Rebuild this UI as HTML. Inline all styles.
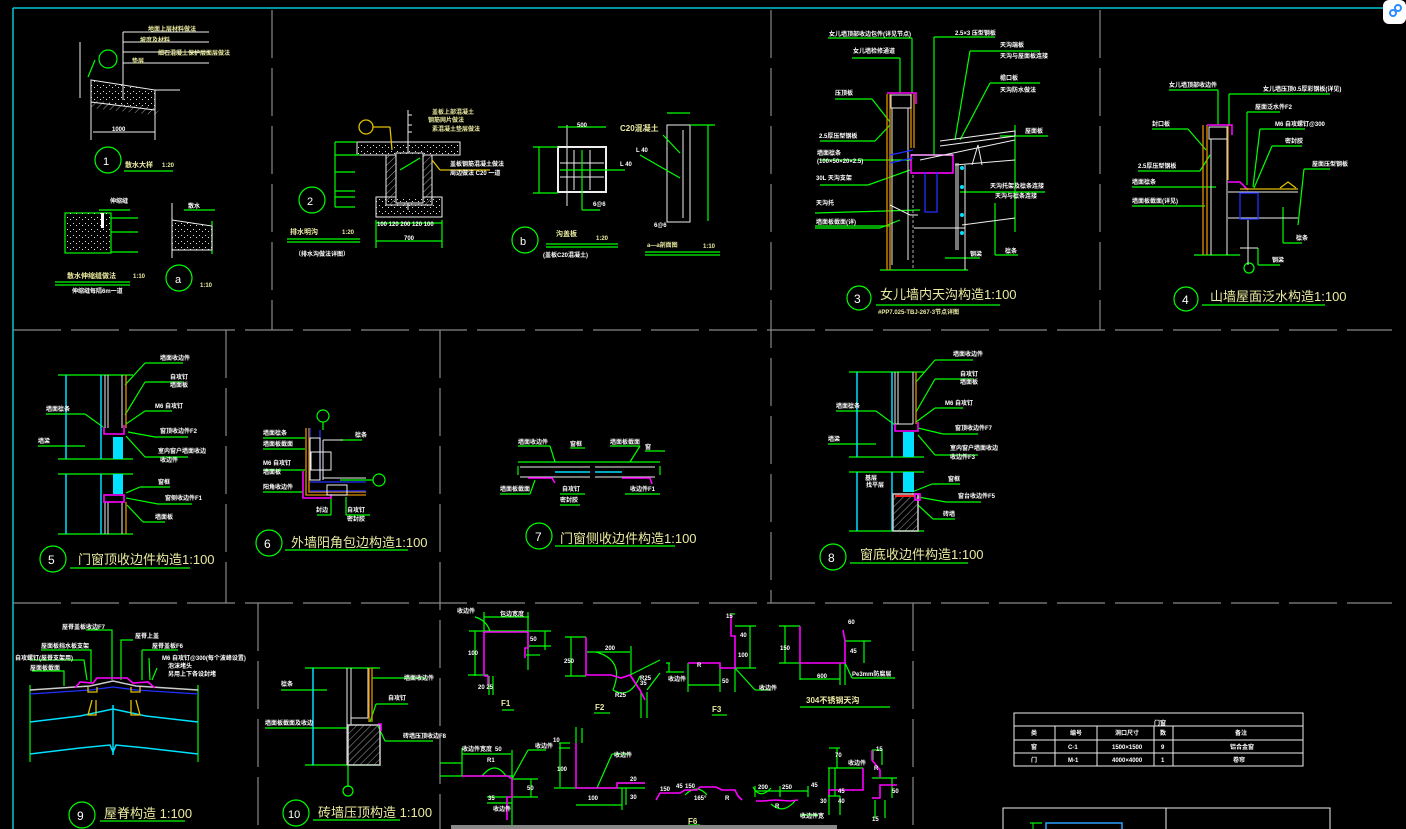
<!DOCTYPE html>
<html><head><meta charset="utf-8"><style>
html,body{margin:0;padding:0;background:#000;width:1406px;height:829px;overflow:hidden}
svg{display:block}
text{font-family:"Liberation Sans","Noto Sans CJK SC",sans-serif}
.t{fill:#eaeaa0;font-size:13px}
.l{fill:#fff;font-size:6px;font-weight:bold}
.ly{fill:#eaeaa0;font-size:6px;font-weight:bold}
.g{stroke:#00ff00;fill:none;stroke-width:1.2}
.y{stroke:#e0c000;fill:none;stroke-width:1.3}
.w{stroke:#eee;fill:none;stroke-width:1}
.c{stroke:#00e0ff;fill:none;stroke-width:1.5}
.b{stroke:#2030ff;fill:none;stroke-width:1.3}
.m{stroke:#ff00ff;fill:none;stroke-width:1.6}
.o{stroke:#e09000;fill:none;stroke-width:1.3}
.grid{stroke:#888;stroke-width:1.2;stroke-dasharray:48 10;fill:none}
</style></head><body>
<svg width="1406" height="829" viewBox="0 0 1406 829">
<defs><pattern id="h" width="5" height="5" patternUnits="userSpaceOnUse" patternTransform="rotate(45)"><line x1="0" y1="0" x2="0" y2="5" stroke="#ccc" stroke-width="0.8"/></pattern>
<pattern id="d" width="6" height="6" patternUnits="userSpaceOnUse"><rect x="1" y="1" width="1" height="1" fill="#ddd"/><rect x="4" y="3" width="1" height="1" fill="#ddd"/></pattern></defs>
<line x1="13" y1="8" x2="1406" y2="8" stroke="#00c8d0" stroke-width="1.5"/>
<line x1="13" y1="8" x2="13" y2="829" stroke="#00c8d0" stroke-width="1.5"/>
<g class="grid">
<line x1="272" y1="10" x2="272" y2="330"/>
<line x1="771" y1="10" x2="771" y2="603"/>
<line x1="1100" y1="10" x2="1100" y2="330"/>
<line x1="13" y1="330" x2="1392" y2="330"/>
<line x1="226" y1="330" x2="226" y2="603"/>
<line x1="440" y1="330" x2="440" y2="829"/>
<line x1="13" y1="603" x2="1392" y2="603"/>
<line x1="258" y1="603" x2="258" y2="829"/>
<line x1="913" y1="603" x2="913" y2="829"/>
</g>

<!-- ===== panel 1 ===== -->
<g class="w"><line x1="80" y1="42" x2="80" y2="98"/><line x1="91" y1="82" x2="91" y2="140"/><line x1="155" y1="95" x2="155" y2="140"/>
<line x1="93" y1="132" x2="155" y2="132"/><line x1="123" y1="32" x2="123" y2="100"/>
<line x1="123" y1="32" x2="209" y2="32"/><line x1="123" y1="42" x2="209" y2="42"/><line x1="123" y1="52" x2="209" y2="52"/><line x1="123" y1="63" x2="209" y2="63"/>
<line x1="155" y1="90" x2="180" y2="90"/></g>
<polygon points="91,80 155,90 155,110 91,102" fill="url(#d)" stroke="#eee"/>
<polygon points="91,100 155,108 170,95 155,115 91,108" fill="url(#h)"/>
<g class="g"><circle cx="108" cy="59" r="9"/><line x1="95" y1="60" x2="88" y2="77"/><circle cx="108" cy="160" r="13"/><line x1="124" y1="171" x2="173" y2="171"/>
<rect x="65" y="213" width="46" height="40"/><line x1="111" y1="218" x2="138" y2="218"/><line x1="111" y1="232" x2="138" y2="232"/><line x1="111" y1="252" x2="138" y2="252"/>
<circle cx="179" cy="278" r="13"/><line x1="55" y1="282" x2="130" y2="282"/><line x1="55" y1="285" x2="130" y2="285"/><line x1="99" y1="210" x2="130" y2="210"/><line x1="184" y1="210" x2="215" y2="210"/><line x1="212" y1="221" x2="212" y2="254"/></g>
<rect x="66" y="213" width="44" height="38" fill="url(#d)"/>
<rect x="101" y="213" width="3" height="15" fill="#fff"/>
<polygon points="172,220 212,226 212,250 172,250" fill="url(#d)" stroke="#eee"/>
<line x1="172" y1="203" x2="172" y2="258" stroke="#eee"/>
<text x="103" y="165" class="t" style="fill:#fff;font-size:11px">1</text><text x="175" y="283" class="t" style="fill:#fff;font-size:11px">a</text>
<text x="148" y="31" class="ly">地面上层材料做法</text><text x="140" y="42" class="ly">坡度及材料</text><text x="158" y="55" class="ly">细石混凝土保护层面层做法</text><text x="132" y="63" class="ly">垫层</text>
<text x="125" y="167" class="ly" style="font-size:7px">散水大样</text><text x="162" y="167" class="ly">1:20</text><text x="112" y="131" class="l">1000</text>
<text x="67" y="278" class="ly" style="font-size:7px">散水伸缩缝做法</text><text x="133" y="278" class="ly">1:10</text><text x="72" y="293" class="l">伸缩缝每隔6m一道</text><text x="200" y="287" class="ly">1:10</text>
<text x="110" y="203" class="l">伸缩缝</text><text x="188" y="208" class="l">散水</text>

<!-- ===== panel 2 ===== -->
<g class="w"><rect x="357" y="142" width="103" height="13"/><rect x="386" y="155" width="46" height="50"/><rect x="396" y="153" width="27" height="50"/>
<rect x="376" y="197" width="66" height="20"/><line x1="408" y1="110" x2="408" y2="210"/><line x1="408" y1="115" x2="412" y2="115"/><line x1="408" y1="125" x2="412" y2="125"/><line x1="408" y1="132" x2="412" y2="132"/></g>
<rect x="386" y="155" width="46" height="50" fill="url(#h)"/><rect x="396" y="153" width="27" height="50" fill="#000" stroke="#eee"/>
<rect x="357" y="142" width="103" height="13" fill="url(#d)"/><rect x="376" y="197" width="66" height="20" fill="url(#d)"/>
<g class="g"><line x1="335" y1="142" x2="357" y2="142"/><line x1="335" y1="155" x2="360" y2="155"/><line x1="335" y1="172" x2="355" y2="172"/><line x1="335" y1="191" x2="355" y2="191"/><line x1="335" y1="197" x2="355" y2="197"/><line x1="335" y1="207" x2="355" y2="207"/><line x1="335" y1="142" x2="335" y2="207"/>
<line x1="376" y1="223" x2="442" y2="223"/><line x1="376" y1="241" x2="442" y2="241"/><line x1="376" y1="220" x2="376" y2="248"/><line x1="442" y1="220" x2="442" y2="248"/>
<circle cx="312" cy="200" r="13"/><line x1="287" y1="239" x2="360" y2="239"/><line x1="287" y1="242" x2="360" y2="242"/><line x1="400" y1="170" x2="420" y2="158"/></g>
<g class="y"><circle cx="366" cy="127" r="7"/><line x1="373" y1="127" x2="390" y2="127"/><line x1="390" y1="127" x2="392" y2="150"/><line x1="432" y1="160" x2="440" y2="170"/><line x1="440" y1="170" x2="490" y2="170"/></g>
<text x="307" y="205" class="t" style="fill:#fff;font-size:11px">2</text>
<text x="432" y="114" class="ly">盖板上部混凝土</text><text x="428" y="122" class="ly">钢筋网片做法</text><text x="432" y="131" class="ly">素混凝土垫层做法</text>
<text x="450" y="166" class="l">盖板钢筋混凝土做法</text><text x="450" y="175" class="l">周边做法 C20 一道</text>
<text x="290" y="234" class="ly" style="font-size:7px">排水明沟</text><text x="342" y="234" class="ly">1:20</text><text x="295" y="256" class="l">（排水沟做法详图）</text><text x="404" y="240" class="l">700</text>
<text x="377" y="226" class="l">100 120   200   120 100</text>

<!-- ===== panel b ===== /
<!-- -->
<g class="w"><rect x="558" y="147" width="48" height="45" stroke-width="2"/><line x1="574" y1="150" x2="574" y2="190"/><line x1="590" y1="150" x2="590" y2="190"/><line x1="560" y1="163" x2="604" y2="163"/><line x1="560" y1="177" x2="604" y2="177"/><line x1="567" y1="125" x2="567" y2="206"/>
<rect x="667" y="125" width="23" height="97"/><line x1="683" y1="130" x2="683" y2="218"/></g>
<g class="g"><line x1="558" y1="127" x2="606" y2="127"/><line x1="533" y1="147" x2="558" y2="147"/><line x1="533" y1="193" x2="558" y2="193"/><line x1="539" y1="147" x2="539" y2="193"/><line x1="560" y1="170" x2="625" y2="170"/><line x1="582" y1="150" x2="582" y2="210"/><line x1="582" y1="210" x2="600" y2="210"/>
<line x1="667" y1="113" x2="690" y2="113"/><line x1="690" y1="125" x2="715" y2="125"/><line x1="708" y1="125" x2="708" y2="221"/><line x1="663" y1="135" x2="680" y2="153"/><line x1="640" y1="155" x2="680" y2="178"/>
<circle cx="525" cy="240" r="13"/><line x1="546" y1="244" x2="618" y2="244"/><line x1="546" y1="247" x2="618" y2="247"/><line x1="645" y1="252" x2="720" y2="252"/><line x1="645" y1="255" x2="720" y2="255"/></g>
<text x="520" y="245" class="t" style="fill:#fff;font-size:11px">b</text>
<text x="577" y="127" class="l">500</text><text x="620" y="166" class="l">L 40</text><text x="593" y="206" class="l">6@6</text>
<text x="620" y="131" class="ly" style="font-size:8px">C20混凝土</text><text x="636" y="152" class="l">L 40</text><text x="654" y="227" class="l">6@6</text>
<text x="556" y="236" class="ly" style="font-size:7px">沟盖板</text><text x="596" y="240" class="ly">1:20</text><text x="543" y="257" class="l">(盖板C20混凝土)</text>
<text x="647" y="247" class="ly">a—a剖面图</text><text x="703" y="248" class="ly">1:10</text>

<!-- ===== panel 3 ===== -->
<g class="g"><line x1="828" y1="38" x2="912" y2="38"/><line x1="912" y1="38" x2="912" y2="93"/><line x1="852" y1="58" x2="900" y2="58"/><line x1="900" y1="58" x2="900" y2="93"/>
<line x1="835" y1="99" x2="872" y2="99"/><line x1="872" y1="99" x2="890" y2="122"/><line x1="820" y1="141" x2="875" y2="141"/><line x1="875" y1="141" x2="890" y2="125"/>
<line x1="820" y1="160" x2="912" y2="160"/><line x1="820" y1="185" x2="868" y2="185"/><line x1="868" y1="185" x2="910" y2="170"/>
<line x1="815" y1="213" x2="920" y2="210"/><line x1="815" y1="228" x2="880" y2="228"/><line x1="880" y1="228" x2="900" y2="220"/><line x1="815" y1="226" x2="890" y2="226"/>
<line x1="934" y1="37" x2="995" y2="37"/><line x1="934" y1="37" x2="934" y2="155"/><line x1="970" y1="51" x2="1040" y2="51"/><line x1="970" y1="51" x2="955" y2="140"/><line x1="990" y1="83" x2="1040" y2="83"/><line x1="990" y1="83" x2="960" y2="140"/>
<line x1="1000" y1="136" x2="1048" y2="136"/><line x1="1015" y1="125" x2="1015" y2="232"/><line x1="960" y1="192" x2="1045" y2="192"/><line x1="995" y1="203" x2="995" y2="255"/><line x1="995" y1="255" x2="1018" y2="255"/>
<line x1="945" y1="258" x2="980" y2="258"/><line x1="880" y1="270" x2="968" y2="270"/></g>
<g class="o"><line x1="887" y1="94" x2="887" y2="270"/><line x1="890" y1="94" x2="890" y2="270"/><line x1="911" y1="94" x2="911" y2="148"/><line x1="914" y1="94" x2="914" y2="148"/></g>
<g class="m"><polyline points="887,93 916,93 916,104"/><rect x="911" y="155" width="42" height="18"/></g>
<g class="w"><rect x="891" y="95" width="20" height="13"/><line x1="892" y1="108" x2="892" y2="265"/><line x1="908" y1="108" x2="908" y2="260"/><line x1="911" y1="155" x2="953" y2="155"/><line x1="920" y1="160" x2="1015" y2="140"/>
<polyline points="940,141 1015,131 1015,136 940,146"/><line x1="955" y1="165" x2="1015" y2="160"/><line x1="956" y1="163" x2="956" y2="250"/><line x1="958" y1="163" x2="958" y2="250"/><line x1="962" y1="225" x2="1015" y2="218"/>
<polyline points="890,205 910,215 918,215"/><line x1="914" y1="228" x2="965" y2="228"/><line x1="965" y1="165" x2="965" y2="270"/><polyline points="972,165 978,145 982,165"/></g>
<g class="b"><polyline points="925,172 925,212 937,212 937,172"/><line x1="890" y1="155" x2="913" y2="150"/><line x1="890" y1="163" x2="913" y2="158"/></g>
<g fill="#00e0ff"><circle cx="962" cy="168" r="2"/><circle cx="962" cy="187" r="2"/><circle cx="962" cy="215" r="2"/><circle cx="962" cy="233" r="2"/></g>
<line x1="913" y1="175" x2="913" y2="270" stroke="#aaa" stroke-dasharray="3 2"/>
<text x="829" y="36" class="l">女儿墙顶部收边包件(详见节点)</text><text x="853" y="53" class="l">女儿墙检修通道</text><text x="835" y="95" class="l">压顶板</text><text x="819" y="138" class="l">2.5厚压型钢板</text>
<text x="817" y="155" class="l">墙面檩条</text><text x="817" y="163" class="l">(100×50×20×2.5)</text><text x="816" y="180" class="l">30L 天沟支架</text><text x="816" y="205" class="l">天沟托</text><text x="816" y="224" class="l">墙面板截面(详)</text>
<text x="955" y="35" class="l">2.5×3 压型钢板</text><text x="1000" y="47" class="l">天沟端板</text><text x="1000" y="58" class="l">天沟与屋面板连接</text><text x="1000" y="80" class="l">檐口板</text><text x="1000" y="92" class="l">天沟防水做法</text>
<text x="1025" y="133" class="l">屋面板</text><text x="990" y="188" class="l">天沟托架及檩条连接</text><text x="995" y="198" class="l">天沟与檩条连接</text><text x="1005" y="253" class="l">檩条</text><text x="970" y="256" class="l">钢梁</text>
<g class="g"><circle cx="859" cy="298" r="12"/><line x1="876" y1="305" x2="1000" y2="305"/></g>
<text x="854" y="303" class="t" style="fill:#fff;font-size:12px">3</text><text x="880" y="299" class="t">女儿墙内天沟构造1:100</text>
<text x="878" y="314" class="ly">#PP7.025-TBJ-267-3节点详图</text>

<!-- ===== panel 4 ===== -->
<g class="g"><line x1="1169" y1="90" x2="1218" y2="90"/><line x1="1218" y1="90" x2="1218" y2="125"/><line x1="1229" y1="94" x2="1330" y2="94"/><line x1="1229" y1="94" x2="1229" y2="125"/>
<line x1="1247" y1="112" x2="1280" y2="112"/><line x1="1247" y1="112" x2="1247" y2="185"/><line x1="1260" y1="129" x2="1305" y2="129"/><line x1="1260" y1="129" x2="1253" y2="187"/><line x1="1272" y1="146" x2="1302" y2="146"/><line x1="1272" y1="146" x2="1254" y2="188"/>
<line x1="1152" y1="129" x2="1188" y2="129"/><line x1="1188" y1="129" x2="1206" y2="150"/><line x1="1138" y1="171" x2="1200" y2="171"/><line x1="1200" y1="171" x2="1210" y2="155"/><line x1="1132" y1="187" x2="1216" y2="187"/><line x1="1132" y1="206" x2="1205" y2="206"/>
<line x1="1304" y1="169" x2="1330" y2="169"/><line x1="1304" y1="169" x2="1298" y2="225"/><line x1="1283" y1="207" x2="1283" y2="243"/><line x1="1283" y1="243" x2="1302" y2="243"/><line x1="1258" y1="248" x2="1258" y2="265"/><line x1="1258" y1="265" x2="1280" y2="265"/>
<line x1="1194" y1="255" x2="1240" y2="255"/><circle cx="1249" cy="268" r="5"/></g>
<g class="o"><line x1="1203" y1="125" x2="1203" y2="255"/><line x1="1207" y1="125" x2="1207" y2="255"/><line x1="1228" y1="125" x2="1228" y2="180"/></g>
<g class="m"><polyline points="1207,125 1232,125 1232,135"/><polyline points="1228,182 1240,182 1248,190"/></g>
<g class="w"><rect x="1209" y="127" width="18" height="12"/><line x1="1211" y1="139" x2="1211" y2="255"/><line x1="1227" y1="139" x2="1227" y2="255"/><line x1="1228" y1="192" x2="1298" y2="192"/><line x1="1228" y1="218" x2="1298" y2="218"/><line x1="1248" y1="220" x2="1248" y2="265"/><line x1="1240" y1="248" x2="1258" y2="248"/></g>
<g class="y"><line x1="1240" y1="189" x2="1298" y2="189"/><polyline points="1280,188 1288,182 1296,188"/></g>
<g class="b"><rect x="1240" y="193" width="18" height="26"/></g>
<text x="1169" y="87" class="l">女儿墙顶部收边件</text><text x="1263" y="91" class="l">女儿墙压顶0.5厚彩钢板(详见)</text><text x="1255" y="109" class="l">屋面泛水件F2</text><text x="1275" y="126" class="l">M6 自攻螺钉@300</text><text x="1285" y="143" class="l">密封胶</text>
<text x="1152" y="126" class="l">封口板</text><text x="1138" y="168" class="l">2.5厚压型钢板</text><text x="1132" y="184" class="l">墙面檩条</text><text x="1132" y="203" class="l">墙面板截面(详见)</text><text x="1312" y="166" class="l">屋面压型钢板</text><text x="1296" y="240" class="l">檩条</text><text x="1272" y="262" class="l">钢梁</text>
<g class="g"><circle cx="1186" cy="299" r="12"/><line x1="1202" y1="305" x2="1325" y2="305"/></g>
<text x="1182" y="304" class="t" style="fill:#fff;font-size:12px">4</text><text x="1210" y="301" class="t">山墙屋面泛水构造1:100</text>

<!-- ===== panel 5 ===== -->
<g class="g"><line x1="58" y1="375" x2="133" y2="375"/><line x1="58" y1="459" x2="133" y2="459"/><line x1="58" y1="474" x2="133" y2="474"/><line x1="58" y1="534" x2="133" y2="534"/>
<line x1="46" y1="414" x2="85" y2="414"/><line x1="85" y1="414" x2="103" y2="427"/><line x1="38" y1="446" x2="85" y2="446"/>
<line x1="145" y1="363" x2="183" y2="363"/><line x1="145" y1="363" x2="125" y2="385"/><line x1="145" y1="382" x2="183" y2="382"/><line x1="145" y1="382" x2="125" y2="415"/><line x1="145" y1="411" x2="172" y2="411"/><line x1="145" y1="411" x2="126" y2="424"/>
<line x1="155" y1="437" x2="188" y2="437"/><line x1="155" y1="437" x2="128" y2="432"/><line x1="145" y1="457" x2="188" y2="457"/><line x1="145" y1="457" x2="126" y2="436"/>
<line x1="140" y1="487" x2="170" y2="487"/><line x1="140" y1="487" x2="126" y2="493"/><line x1="158" y1="504" x2="192" y2="504"/><line x1="158" y1="504" x2="126" y2="498"/><line x1="143" y1="522" x2="165" y2="522"/><line x1="143" y1="522" x2="127" y2="505"/></g>
<g class="c"><line x1="66" y1="375" x2="66" y2="459"/><line x1="66" y1="474" x2="66" y2="534"/><line x1="101" y1="375" x2="101" y2="459"/><line x1="101" y1="474" x2="101" y2="534"/></g>
<rect x="113" y="437" width="10" height="22" fill="#00e0ff"/><rect x="113" y="474" width="10" height="20" fill="#00e0ff"/>
<g class="w"><line x1="105" y1="375" x2="105" y2="428"/><line x1="108" y1="375" x2="108" y2="428"/><line x1="122" y1="375" x2="122" y2="428"/><line x1="105" y1="502" x2="105" y2="534"/><line x1="108" y1="502" x2="108" y2="534"/><line x1="122" y1="502" x2="122" y2="534"/><line x1="105" y1="502" x2="122" y2="502"/></g>
<g class="o"><line x1="126" y1="375" x2="126" y2="428"/><line x1="126" y1="502" x2="126" y2="534"/></g>
<g class="m"><polyline points="104,427 104,434 124,434 124,425"/><rect x="104" y="495" width="20" height="7"/></g>
<text x="160" y="360" class="l">墙面收边件</text><text x="170" y="379" class="l">自攻钉</text><text x="170" y="387" class="l">墙面板</text><text x="155" y="408" class="l">M6 自攻钉</text><text x="160" y="433" class="l">窗顶收边件F2</text><text x="158" y="453" class="l">室内窗户墙面收边</text><text x="160" y="462" class="l">收边件</text>
<text x="158" y="484" class="l">窗框</text><text x="165" y="500" class="l">窗侧收边件F1</text><text x="155" y="519" class="l">墙面板</text><text x="46" y="411" class="l">墙面檩条</text><text x="38" y="443" class="l">墙梁</text>
<g class="g"><circle cx="53" cy="559" r="13"/><line x1="70" y1="568" x2="190" y2="568"/></g>
<text x="48" y="564" class="t" style="fill:#fff;font-size:12px">5</text><text x="78" y="564" class="t">门窗顶收边件构造1:100</text>

<!-- ===== panel 6 ===== -->
<g class="g"><line x1="263" y1="438" x2="305" y2="438"/><line x1="263" y1="449" x2="305" y2="449"/><line x1="263" y1="470" x2="305" y2="470"/><line x1="263" y1="492" x2="303" y2="492"/>
<line x1="340" y1="440" x2="362" y2="440"/><line x1="373" y1="480" x2="340" y2="480"/><line x1="331" y1="497" x2="331" y2="515"/><line x1="331" y1="515" x2="317" y2="515"/><line x1="346" y1="497" x2="346" y2="515"/><line x1="346" y1="515" x2="370" y2="515"/>
<circle cx="323" cy="416" r="6"/><line x1="323" y1="422" x2="323" y2="430"/><circle cx="379" cy="480" r="6"/></g>
<g class="o"><polyline points="306,428 306,495 366,495"/><polyline points="309,428 309,492 366,492"/></g>
<g class="b"><line x1="310" y1="428" x2="310" y2="480"/><line x1="320" y1="430" x2="320" y2="480"/><line x1="310" y1="482" x2="366" y2="482"/><line x1="310" y1="491" x2="366" y2="491"/></g>
<g class="m"><polyline points="303,471 303,498 331,498 331,494"/></g>
<g class="w"><rect x="310" y="438" width="10" height="42"/><line x1="323" y1="440" x2="343" y2="440"/><line x1="323" y1="478" x2="366" y2="478"/><rect x="311" y="452" width="20" height="18"/><rect x="327" y="485" width="20" height="10"/><line x1="323" y1="440" x2="323" y2="480"/></g>
<text x="263" y="435" class="l">墙面檩条</text><text x="263" y="446" class="l">墙面板截面</text><text x="263" y="465" class="l">M6 自攻钉</text><text x="263" y="474" class="l">墙面板</text><text x="263" y="489" class="l">阳角收边件</text>
<text x="355" y="437" class="l">檩条</text><text x="316" y="512" class="l">封边</text><text x="347" y="512" class="l">自攻钉</text><text x="347" y="521" class="l">密封胶</text>
<g class="g"><circle cx="269" cy="543" r="13"/><line x1="285" y1="550" x2="408" y2="550"/></g>
<text x="264" y="548" class="t" style="fill:#fff;font-size:12px">6</text><text x="291" y="547" class="t">外墙阳角包边构造1:100</text>

<!-- ===== panel 7 ===== -->
<g class="g"><line x1="518" y1="462" x2="660" y2="462"/><line x1="518" y1="466" x2="518" y2="475"/><line x1="660" y1="466" x2="660" y2="475"/><line x1="500" y1="494" x2="530" y2="494"/><line x1="530" y1="494" x2="535" y2="480"/><line x1="560" y1="494" x2="585" y2="494"/><line x1="625" y1="494" x2="660" y2="494"/>
<line x1="518" y1="446" x2="550" y2="446"/><line x1="550" y1="446" x2="555" y2="462"/><line x1="570" y1="448" x2="585" y2="448"/><line x1="610" y1="446" x2="640" y2="446"/><line x1="640" y1="446" x2="630" y2="462"/><line x1="645" y1="451" x2="665" y2="451"/><line x1="560" y1="505" x2="580" y2="505"/></g>
<g class="w"><line x1="520" y1="467" x2="590" y2="467"/><line x1="520" y1="477" x2="590" y2="477"/><line x1="595" y1="467" x2="655" y2="467"/><line x1="595" y1="477" x2="655" y2="477"/></g>
<g class="c"><line x1="555" y1="472" x2="590" y2="472"/><line x1="595" y1="472" x2="622" y2="472"/></g>
<g class="m"><polyline points="528,478 552,478 555,483"/><polyline points="622,478 650,478 652,484"/></g>
<text x="518" y="444" class="l">墙面收边件</text><text x="570" y="446" class="l">窗框</text><text x="610" y="444" class="l">墙面板截面</text><text x="645" y="449" class="l">窗</text>
<text x="500" y="491" class="l">墙面板截面</text><text x="562" y="491" class="l">自攻钉</text><text x="630" y="491" class="l">收边件F1</text><text x="560" y="502" class="l">密封胶</text>
<g class="g"><circle cx="539" cy="536" r="13"/><line x1="555" y1="546" x2="675" y2="546"/></g>
<text x="535" y="541" class="t" style="fill:#fff;font-size:12px">7</text><text x="560" y="543" class="t">门窗侧收边件构造1:100</text>

<!-- ===== panel 8 ===== -->
<g class="g"><line x1="849" y1="372" x2="924" y2="372"/><line x1="849" y1="457" x2="924" y2="457"/><line x1="849" y1="472" x2="924" y2="472"/><line x1="849" y1="531" x2="924" y2="531"/>
<line x1="836" y1="411" x2="876" y2="411"/><line x1="876" y1="411" x2="895" y2="425"/><line x1="828" y1="444" x2="876" y2="444"/>
<line x1="935" y1="360" x2="973" y2="360"/><line x1="935" y1="360" x2="916" y2="382"/><line x1="935" y1="379" x2="973" y2="379"/><line x1="935" y1="379" x2="916" y2="412"/><line x1="935" y1="408" x2="963" y2="408"/><line x1="935" y1="408" x2="916" y2="422"/>
<line x1="943" y1="434" x2="978" y2="434"/><line x1="943" y1="434" x2="918" y2="428"/><line x1="935" y1="455" x2="978" y2="455"/><line x1="935" y1="455" x2="918" y2="435"/>
<line x1="932" y1="484" x2="960" y2="484"/><line x1="932" y1="484" x2="912" y2="492"/><line x1="946" y1="502" x2="981" y2="502"/><line x1="946" y1="502" x2="918" y2="497"/><line x1="933" y1="519" x2="955" y2="519"/><line x1="933" y1="519" x2="918" y2="505"/></g>
<g class="c"><line x1="857" y1="372" x2="857" y2="457"/><line x1="857" y1="472" x2="857" y2="531"/><line x1="892" y1="372" x2="892" y2="457"/><line x1="892" y1="472" x2="892" y2="531"/></g>
<rect x="903" y="432" width="11" height="25" fill="#00e0ff"/><rect x="903" y="472" width="11" height="20" fill="#00e0ff"/>
<g class="w"><line x1="895" y1="372" x2="895" y2="424"/><line x1="898" y1="372" x2="898" y2="424"/><line x1="913" y1="372" x2="913" y2="424"/><line x1="895" y1="424" x2="913" y2="424"/></g>
<line x1="916" y1="372" x2="916" y2="424" stroke="#e09000" stroke-width="1.3"/>
<rect x="893" y="494" width="25" height="37" fill="url(#h)" stroke="#ccc" stroke-width="1.5"/>
<line x1="895" y1="496" x2="915" y2="496" stroke="#ff2020" stroke-width="2"/>
<g class="m"><polyline points="895,424 895,431 918,431 918,422"/><rect x="915" y="494" width="5" height="6"/></g>
<text x="953" y="356" class="l">墙面收边件</text><text x="960" y="376" class="l">自攻钉</text><text x="960" y="384" class="l">墙面板</text><text x="945" y="405" class="l">M6 自攻钉</text><text x="955" y="430" class="l">窗顶收边件F7</text><text x="950" y="450" class="l">室内窗户墙面收边</text><text x="950" y="459" class="l">收边件F3</text>
<text x="948" y="481" class="l">窗框</text><text x="958" y="498" class="l">窗台收边件F5</text><text x="943" y="516" class="l">砖墙</text><text x="836" y="408" class="l">墙面檩条</text><text x="828" y="441" class="l">墙梁</text><text x="865" y="480" class="l">基层</text><text x="866" y="487" class="l">找平层</text>
<g class="g"><circle cx="833" cy="557" r="13"/><line x1="850" y1="563" x2="968" y2="563"/></g>
<text x="828" y="562" class="t" style="fill:#fff;font-size:12px">8</text><text x="860" y="559" class="t">窗底收边件构造1:100</text>

<!-- ===== panel 9 ===== -->
<g class="g"><line x1="30" y1="685" x2="30" y2="762"/><line x1="198" y1="685" x2="198" y2="762"/>
<polyline points="86,630 112,630 112,680"/><polyline points="133,640 121,640 121,680"/><polyline points="41,650 91,650 91,682"/><polyline points="30,660 84,660 87,680"/><polyline points="32,671 64,671 64,686"/>
<polyline points="142,650 142,680"/><polyline points="149,658 150,680"/><polyline points="157,668 152,680"/><line x1="142" y1="650" x2="178" y2="650"/></g>
<polyline points="30,690 90,686 113,681 136,686 198,690" stroke="#ccc" fill="none" stroke-width="1.5"/>
<polyline points="30,694 90,690 113,687 136,690 198,694" class="b"/>
<polyline points="30,722 80,716 113,709 146,716 198,722" class="c" stroke-width="2"/>
<polyline points="30,754 80,748 110,745 113,752 116,745 146,748 198,754" class="c" stroke-width="2"/>
<line x1="113" y1="705" x2="113" y2="755" class="c" stroke-width="2"/>
<g class="y"><polyline points="88,687 88,692 97,692 97,687"/><polyline points="92,700 88,715 96,715 96,700"/><polyline points="131,687 131,692 140,692 140,687"/><polyline points="131,700 131,715 140,715 136,700"/></g>
<g class="m"><polyline points="75,688 80,682 93,683 97,678 127,678 133,683 148,682 155,688"/></g>
<text x="62" y="629" class="l">屋脊盖板收边F7</text><text x="135" y="638" class="l">屋脊上盖</text><text x="41" y="648" class="l">屋面板挡水板支架</text><text x="15" y="660" class="l">自攻螺钉(屋脊支架用)</text><text x="30" y="670" class="l">屋面板截面</text>
<text x="152" y="648" class="l">屋脊盖板F6</text><text x="162" y="660" class="l">M6 自攻钉@300(每个波峰设置)</text><text x="168" y="668" class="l">泡沫堵头</text><text x="168" y="676" class="l">另用上下各设封堵</text>
<g class="g"><circle cx="82" cy="815" r="13"/><line x1="100" y1="821" x2="185" y2="821"/></g>
<text x="77" y="820" class="t" style="fill:#fff;font-size:12px">9</text><text x="104" y="818" class="t">屋脊构造 1:100</text>

<!-- ===== panel 10 ===== -->
<g class="g"><line x1="305" y1="668" x2="380" y2="668"/><line x1="305" y1="765" x2="380" y2="765"/><line x1="281" y1="690" x2="327" y2="690"/><line x1="265" y1="728" x2="348" y2="728"/>
<line x1="372" y1="678" x2="426" y2="678"/><line x1="376" y1="704" x2="408" y2="704"/><line x1="376" y1="704" x2="370" y2="722"/><line x1="385" y1="741" x2="433" y2="741"/><line x1="385" y1="741" x2="378" y2="726"/>
<line x1="348" y1="765" x2="348" y2="787"/><circle cx="348" cy="791" r="5"/></g>
<line x1="313" y1="668" x2="313" y2="765" class="c" stroke-width="2"/>
<g class="w"><line x1="347" y1="668" x2="347" y2="765"/><line x1="351" y1="668" x2="351" y2="725"/><line x1="368" y1="668" x2="368" y2="718"/><line x1="351" y1="718" x2="368" y2="718"/></g>
<g class="o"><line x1="369" y1="668" x2="369" y2="722"/><line x1="372" y1="668" x2="372" y2="722"/></g>
<rect x="348" y="725" width="32" height="40" fill="url(#h)" stroke="#ccc" stroke-width="1.5"/>
<polyline points="378,724 381,724 381,731" class="m"/>
<text x="281" y="686" class="l">檩条</text><text x="265" y="725" class="l">墙面板截面及收边</text><text x="404" y="680" class="l">墙面收边件</text><text x="388" y="700" class="l">自攻钉</text><text x="403" y="738" class="l">砖墙压顶收边F8</text>
<g class="g"><circle cx="296" cy="813" r="13"/><line x1="313" y1="820" x2="400" y2="820"/></g>
<text x="288" y="818" class="t" style="fill:#fff;font-size:11px">10</text><text x="318" y="817" class="t">砖墙压顶构造 1:100</text>

<!-- ===== F panels ===== -->
<g class="g">
<!-- F1 -->
<line x1="469" y1="631" x2="551" y2="631"/><line x1="484" y1="617" x2="529" y2="617"/><line x1="484" y1="612" x2="484" y2="632"/><line x1="528" y1="612" x2="528" y2="670"/><line x1="475" y1="631" x2="475" y2="676"/><line x1="468" y1="675" x2="488" y2="675"/>
<line x1="545" y1="631" x2="545" y2="650"/><line x1="528" y1="646" x2="551" y2="646"/><line x1="526" y1="655" x2="540" y2="655"/><line x1="489" y1="676" x2="489" y2="695"/><line x1="493" y1="676" x2="493" y2="695"/><path d="M475,617 Q486,620 490,631"/>
<line x1="502" y1="710" x2="514" y2="710"/>
<!-- F2 -->
<line x1="565" y1="637" x2="586" y2="637"/><line x1="565" y1="676" x2="586" y2="676"/><line x1="571" y1="637" x2="571" y2="676"/><line x1="587" y1="652" x2="630" y2="652"/><line x1="631" y1="646" x2="631" y2="675"/>
<path d="M596,652 Q625,660 613,690 Q630,700 640,676"/><line x1="630" y1="675" x2="660" y2="660"/><line x1="647" y1="690" x2="660" y2="673"/><line x1="641" y1="692" x2="641" y2="718"/><line x1="647" y1="692" x2="647" y2="718"/><line x1="594" y1="713" x2="610" y2="713"/>
<!-- F3 -->
<line x1="666" y1="663" x2="670" y2="663"/><line x1="666" y1="672" x2="684" y2="672"/><line x1="669" y1="663" x2="669" y2="672"/><line x1="688" y1="663" x2="688" y2="692"/><line x1="688" y1="685" x2="720" y2="685"/><line x1="720" y1="663" x2="720" y2="692"/><line x1="735" y1="663" x2="735" y2="692"/>
<line x1="731" y1="614" x2="735" y2="614"/><line x1="735" y1="626" x2="756" y2="626"/><line x1="735" y1="668" x2="756" y2="668"/><line x1="750" y1="626" x2="750" y2="668"/><line x1="735" y1="668" x2="755" y2="690"/><line x1="755" y1="690" x2="771" y2="690"/><line x1="712" y1="715" x2="727" y2="715"/>
<!-- 304 -->
<line x1="779" y1="626" x2="800" y2="626"/><line x1="779" y1="663" x2="800" y2="663"/><line x1="785" y1="626" x2="785" y2="663"/><line x1="800" y1="663" x2="800" y2="680"/><line x1="840" y1="663" x2="840" y2="685"/><line x1="800" y1="679" x2="840" y2="679"/>
<line x1="845" y1="641" x2="871" y2="641"/><line x1="845" y1="663" x2="845" y2="685"/><line x1="864" y1="641" x2="864" y2="663"/><line x1="845" y1="663" x2="852" y2="678"/><line x1="852" y1="678" x2="895" y2="678"/><line x1="800" y1="707" x2="890" y2="707"/>
<!-- F4 -->
<line x1="440" y1="763" x2="462" y2="763"/><line x1="440" y1="776" x2="513" y2="776"/><line x1="462" y1="748" x2="462" y2="776"/><line x1="462" y1="754" x2="511" y2="754"/><line x1="512" y1="750" x2="512" y2="825"/><line x1="512" y1="779" x2="538" y2="779"/><line x1="531" y1="779" x2="531" y2="797"/><line x1="512" y1="797" x2="538" y2="797"/><line x1="487" y1="797" x2="508" y2="797"/><line x1="487" y1="803" x2="512" y2="803"/><line x1="512" y1="779" x2="528" y2="750"/><line x1="528" y1="750" x2="546" y2="750"/>
<path d="M482,776 Q495,760 506,776"/>
<!-- F5 -->
<line x1="559" y1="743" x2="570" y2="743"/><line x1="559" y1="748" x2="570" y2="748"/><line x1="560" y1="743" x2="560" y2="787"/><line x1="554" y1="788" x2="645" y2="788"/><line x1="576" y1="727" x2="576" y2="743"/><line x1="582" y1="728" x2="582" y2="743"/><line x1="576" y1="805" x2="622" y2="805"/><line x1="622" y1="788" x2="622" y2="810"/><line x1="626" y1="788" x2="626" y2="805"/>
<line x1="597" y1="788" x2="612" y2="754"/><line x1="612" y1="754" x2="628" y2="754"/><line x1="617" y1="783" x2="645" y2="783"/>
<!-- F6 -->
<path d="M685,795 Q697,783 707,795"/><path d="M753,787 Q760,800 771,788"/>
<!-- F7-F9 -->
<line x1="755" y1="791" x2="808" y2="791"/><line x1="755" y1="786" x2="755" y2="797"/><line x1="780" y1="786" x2="780" y2="797"/><line x1="808" y1="786" x2="808" y2="797"/><path d="M771,804 Q783,815 795,801"/><line x1="800" y1="815" x2="818" y2="815"/>
<line x1="829" y1="748" x2="840" y2="748"/><line x1="828" y1="768" x2="863" y2="768"/><line x1="828" y1="796" x2="840" y2="796"/><line x1="829" y1="768" x2="829" y2="815"/><line x1="837" y1="748" x2="837" y2="768"/><line x1="835" y1="768" x2="835" y2="796"/><line x1="840" y1="796" x2="840" y2="815"/>
<line x1="872" y1="750" x2="882" y2="750"/><line x1="872" y1="778" x2="897" y2="778"/><line x1="872" y1="798" x2="880" y2="798"/><line x1="873" y1="750" x2="873" y2="760"/><line x1="882" y1="750" x2="882" y2="765"/><line x1="892" y1="778" x2="892" y2="798"/><line x1="875" y1="800" x2="875" y2="818"/><line x1="885" y1="800" x2="885" y2="818"/>
<line x1="688" y1="825" x2="700" y2="825"/>
</g>
<g class="m" stroke-width="1.8">
<polyline points="483,632 528,632 528,648 525,648 525,658"/><line x1="484" y1="632" x2="484" y2="676"/><polyline points="484,676 488,676 488,685"/>
<polyline points="586,637 586,675 611,675 621,678 630,675 640,690 645,700"/>
<polyline points="688,663 720,663 720,668 735,668 735,636 731,636 731,615"/>
<polyline points="800,626 800,663 845,663 845,641 843,630"/>
<polyline points="462,776 508,776 512,779 512,797 507,797 507,820"/>
<polyline points="576,743 576,788 597,788 617,788 617,783 645,783"/>
<polyline points="656,800 660,793 680,793 685,790 697,790 700,787 716,787 722,790 735,790 738,796 742,800"/>
<polyline points="756,801 763,801 775,800 790,801 798,800"/>
<polyline points="829,795 829,790 855,790 863,790 863,768"/>
<polyline point="" points="872,798 874,798 880,798 880,785 897,785"/>
<polyline points="872,750 872,760 880,770 880,778"/>
</g>
<text x="457" y="613" class="l">收边件</text><text x="500" y="616" class="l">包边宽度</text><text x="530" y="641" class="l">50</text><text x="468" y="655" class="l">100</text><text x="478" y="689" class="l">20 25</text><text x="501" y="706" class="ly" style="font-size:8px">F1</text>
<text x="605" y="650" class="l">200</text><text x="564" y="663" class="l">250</text><text x="615" y="697" class="l">R25</text><text x="640" y="680" class="l">R25</text><text x="640" y="685" class="l">35</text><text x="595" y="710" class="ly" style="font-size:8px">F2</text>
<text x="697" y="667" class="l">R</text><text x="668" y="681" class="l">收边件</text><text x="722" y="683" class="l">50</text><text x="740" y="637" class="l">40</text><text x="738" y="657" class="l">100</text><text x="759" y="690" class="l">收边件</text><text x="712" y="712" class="ly" style="font-size:8px">F3</text><text x="726" y="618" class="l">15</text>
<text x="780" y="650" class="l">150</text><text x="817" y="678" class="l">600</text><text x="848" y="624" class="l">60</text><text x="850" y="653" class="l">45</text><text x="852" y="676" class="l">Pe3mm防腐层</text><text x="806" y="703" class="ly" style="font-size:8px">304不锈钢天沟</text>
<text x="462" y="751" class="l">收边件宽度</text><text x="495" y="751" class="l">50</text><text x="487" y="762" class="l">R1</text><text x="535" y="748" class="l">收边件</text><text x="488" y="800" class="l">35</text><text x="493" y="811" class="l">收边件</text><text x="527" y="790" class="l">50</text>
<text x="553" y="742" class="l">10</text><text x="557" y="771" class="l">100</text><text x="588" y="800" class="l">100</text><text x="614" y="757" class="l">收边件</text><text x="630" y="781" class="l">20</text><text x="630" y="799" class="l">30</text>
<text x="660" y="791" class="l">150</text><text x="676" y="788" class="l">45</text><text x="685" y="788" class="l">150</text><text x="694" y="800" class="l">165°</text><text x="725" y="800" class="l">R</text><text x="688" y="824" class="ly" style="font-size:8px">F6</text>
<text x="758" y="789" class="l">200</text><text x="782" y="789" class="l">250</text><text x="775" y="808" class="l">R</text><text x="800" y="818" class="l">收边件宽</text>
<text x="835" y="757" class="l">70</text><text x="848" y="765" class="l">收边件</text><text x="811" y="787" class="l">45</text><text x="838" y="793" class="l">45</text><text x="820" y="803" class="l">30</text><text x="838" y="803" class="l">40</text>
<text x="876" y="751" class="l">15</text><text x="874" y="770" class="l">R</text><text x="892" y="793" class="l">50</text><text x="872" y="821" class="l">15</text>
<rect x="451" y="825" width="386" height="4" fill="#888"/>

<!-- ===== table ===== -->
<g class="w" stroke-width="1.3"><rect x="1014" y="713" width="289" height="53"/><line x1="1014" y1="726" x2="1303" y2="726"/><line x1="1014" y1="740" x2="1303" y2="740"/><line x1="1014" y1="753" x2="1303" y2="753"/>
<line x1="1055" y1="726" x2="1055" y2="766"/><line x1="1097" y1="726" x2="1097" y2="766"/><line x1="1154" y1="726" x2="1154" y2="766"/><line x1="1173" y1="726" x2="1173" y2="766"/>
<rect x="1003" y="808" width="327" height="30"/><line x1="1166" y1="808" x2="1166" y2="829"/></g>
<text x="1154" y="725" class="l">门窗</text>
<text x="1031" y="735" class="l">类</text><text x="1070" y="735" class="l">编号</text><text x="1115" y="735" class="l">洞口尺寸</text><text x="1160" y="735" class="l">数</text><text x="1235" y="735" class="l">备注</text>
<text x="1031" y="749" class="l">窗</text><text x="1068" y="749" class="l">C-1</text><text x="1112" y="749" class="l">1500×1500</text><text x="1161" y="749" class="l">9</text><text x="1230" y="749" class="l">铝合金窗</text>
<text x="1031" y="762" class="l">门</text><text x="1068" y="762" class="l">M-1</text><text x="1112" y="762" class="l">4000×4000</text><text x="1161" y="762" class="l">1</text><text x="1233" y="762" class="l">卷帘</text>
<line x1="1030" y1="823" x2="1042" y2="823" stroke="#00ff00" stroke-width="1.2"/><line x1="1033" y1="823" x2="1033" y2="829" stroke="#00ff00"/>
<rect x="1046" y="823" width="76" height="8" fill="none" stroke="#2aa0ff" stroke-width="1.5"/>

<rect x="1383" y="0" width="23" height="24" rx="6" fill="#fff"/>
<circle cx="1393" cy="13" r="3" fill="none" stroke="#2a8cff" stroke-width="2"/><circle cx="1398" cy="8" r="3" fill="none" stroke="#2a8cff" stroke-width="2"/>
</svg>
</body></html>
